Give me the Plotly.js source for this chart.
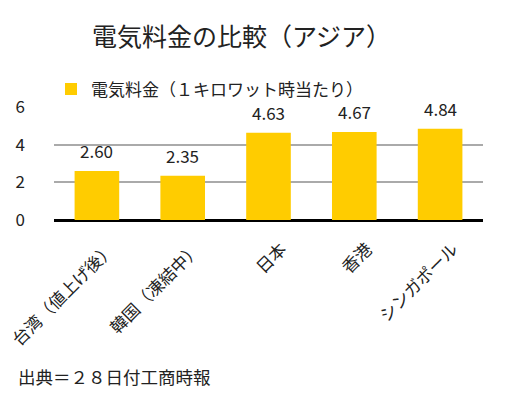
<!DOCTYPE html>
<html><head><meta charset="utf-8">
<script src="https://cdn.plot.ly/plotly-3.0.1.min.js"></script>
<style>body{margin:0;padding:0;background:#fff}#chart{width:516px;height:399px}</style>
</head><body><div id="chart"></div>
<script>
const categories = ["台湾（値上げ後）", "韓国（凍結中）", "日本", "香港", "シンガポール"];
const values = [2.60, 2.35, 4.63, 4.67, 4.84];
const valueLabels = ["2.60", "2.35", "4.63", "4.67", "4.84"];
const seriesName = "電気料金（１キロワット時当たり）";
const yTicks = [0, 2, 4, 6];

const FONT = '"Noto Sans CJK JP", "Noto Sans", sans-serif';

const trace = {
  type: 'bar', x: categories, y: values, name: seriesName,
  marker: {color: '#FFCC00'}, width: 0.52,
  showlegend: true, hoverinfo: 'skip'
};

const annotations = categories.map((c, i) => ({
  x: c, y: values[i], xref: 'x', yref: 'y', text: valueLabels[i],
  showarrow: false, yanchor: 'bottom', yshift: 6,
  font: {family: FONT, size: 17, color: '#222'}
}));
annotations.push({
  xref: 'paper', yref: 'paper', x: -38/429, y: (220-377)/113, xanchor: 'left', yanchor: 'middle',
  text: '出典＝２８日付工商時報', showarrow: false,
  font: {family: FONT, size: 17.5, color: '#222'}
});

const layout = {
  width: 516, height: 399,
  margin: {l: 54, r: 33, t: 107, b: 179},
  paper_bgcolor: '#fff', plot_bgcolor: '#fff',
  font: {family: FONT, color: '#222'},
  title: {text: '電気料金の比較（アジア）', x: 92/516, xanchor: 'left', xref: 'container',
          y: 1 - 37/399, yref: 'container', yanchor: 'middle',
          font: {family: FONT, size: 25, color: '#222'}},
  showlegend: true,
  legend: {x: -3/429, xanchor: 'left', y: 1.155, yanchor: 'middle', yref: 'paper',
           orientation: 'h', font: {family: FONT, size: 17, color: '#222'}, bgcolor: 'rgba(0,0,0,0)'},
  xaxis: {tickangle: -45, tickfont: {family: FONT, size: 17, color: '#222'},
          showline: false, showgrid: false, ticks: '', ticklabelstandoff: 15,
          ticklabelshift: 13, fixedrange: true},
  yaxis: {range: [0, 6], tickvals: yTicks, ticktext: yTicks.map(String),
          tickfont: {family: FONT, size: 17, color: '#222'},
          showgrid: true, gridcolor: '#aaaaaa', gridwidth: 2,
          zeroline: true, zerolinecolor: '#000', zerolinewidth: 3,
          ticks: '', ticklabelstandoff: 28, showline: false, fixedrange: true},
  annotations: annotations
};

Plotly.newPlot('chart', [trace], layout, {displayModeBar: false, staticPlot: true});
</script></body></html>
